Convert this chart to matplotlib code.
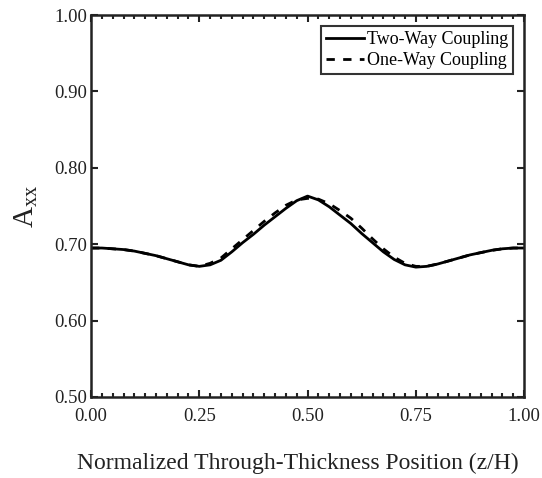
import numpy as np
import matplotlib.pyplot as plt
from matplotlib.ticker import MultipleLocator

plt.rcParams['font.family'] = ['Liberation Serif', 'DejaVu Serif']
plt.rcParams['mathtext.fontset'] = 'custom'
plt.rcParams['mathtext.rm'] = 'Liberation Serif'
plt.rcParams['mathtext.it'] = 'Liberation Serif'

# Posição normalizada ao longo da espessura
z = np.arange(0, 41) * 0.025

two_way = [0.695, 0.695, 0.694, 0.693, 0.691, 0.688, 0.685, 0.681, 0.677, 0.673,
           0.671, 0.673, 0.679, 0.690, 0.702, 0.713, 0.725, 0.736, 0.747, 0.757,
           0.763, 0.758, 0.749, 0.738, 0.727, 0.714, 0.702, 0.690, 0.680, 0.673,
           0.670, 0.671, 0.674, 0.678, 0.682, 0.686, 0.689, 0.692, 0.694, 0.695,
           0.695]

one_way = [0.695, 0.695, 0.694, 0.693, 0.691, 0.688, 0.685, 0.681, 0.677, 0.673,
           0.671, 0.675, 0.682, 0.694, 0.706, 0.718, 0.730, 0.741, 0.751, 0.758,
           0.760, 0.759, 0.753, 0.744, 0.734, 0.721, 0.707, 0.694, 0.683, 0.675,
           0.671, 0.671, 0.674, 0.678, 0.682, 0.686, 0.689, 0.692, 0.694, 0.695,
           0.695]

fig = plt.figure(figsize=(5.42, 4.78), dpi=100)
ax = fig.add_axes([0.168, 0.1695, 0.799, 0.799])

ax.plot(z, two_way, color='black', linewidth=2.0, label='Two-Way Coupling')
ax.plot(z, one_way, color='black', linewidth=2.0, linestyle=(0, (3, 3)), label='One-Way Coupling')

ax.set_xlim(0, 1)
ax.set_ylim(0.5, 1.0)
ax.xaxis.set_major_locator(MultipleLocator(0.25))
ax.xaxis.set_minor_locator(MultipleLocator(0.025))
ax.yaxis.set_major_locator(MultipleLocator(0.1))
ax.xaxis.set_major_formatter(plt.FormatStrFormatter('%.2f'))
ax.yaxis.set_major_formatter(plt.FormatStrFormatter('%.2f'))

ax.tick_params(which='both', direction='in', top=True, right=True, labelsize=13.5,
               colors='#222222', width=1.5)
ax.tick_params(which='major', length=5)
ax.tick_params(which='minor', length=3)
ax.tick_params(axis='y', pad=3)
ax.tick_params(axis='x', pad=8)
for s in ax.spines.values():
    s.set_linewidth(1.8)
    s.set_color('#222222')

ax.set_xlabel('Normalized Through-Thickness Position (z/H)', fontsize=17, color='#222222')
ax.xaxis.set_label_coords(0.478, -0.145)
ax.set_ylabel(r'A$_{\mathregular{xx}}$', fontsize=21, labelpad=10, color='#222222')

leg = ax.legend(loc='upper right', fontsize=13, frameon=True, fancybox=False,
                edgecolor='black', handlelength=2.1, handletextpad=0.15,
                borderpad=0.3, labelspacing=0.2, borderaxespad=0.6)
leg.get_frame().set_linewidth(1.5)

plt.savefig('out.png', dpi=100)
